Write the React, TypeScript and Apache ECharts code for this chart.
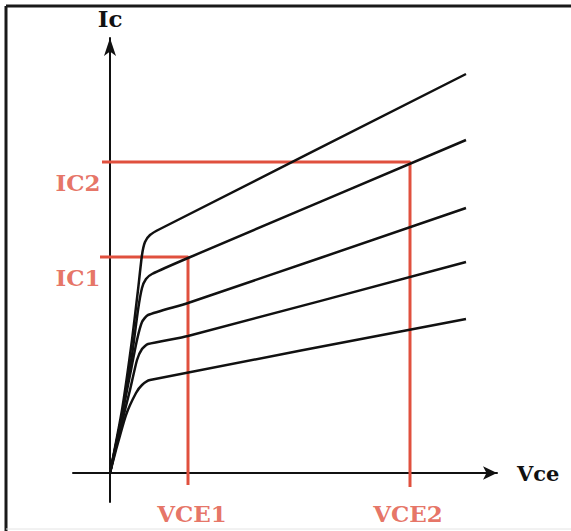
import React, { useEffect, useRef } from "react";
import * as echarts from "echarts";

// Output characteristic curves (Vce, Ic) in arbitrary units
const curve1: [number, number][] = [[0, 0], [0.3, 1.575], [0.55, 3.325], [0.7, 4.575], [0.8, 5.45], [0.875, 5.775], [1.0, 5.95], [1.25, 6.1], [8.9, 9.975]];
const curve2: [number, number][] = [[0, 0], [0.3, 1.45], [0.55, 2.95], [0.7, 4.075], [0.8, 4.625], [0.9, 4.85], [1.05, 4.975], [1.95, 5.375], [8.9, 8.325]];
const curve3: [number, number][] = [[0, 0], [0.25, 1.2], [0.5, 2.45], [0.675, 3.325], [0.8, 3.775], [0.95, 3.95], [1.95, 4.25], [8.9, 6.625]];
const curve4: [number, number][] = [[0, 0], [0.25, 1.075], [0.5, 2.075], [0.675, 2.825], [0.8, 3.1], [0.95, 3.225], [1.95, 3.425], [8.9, 5.275]];
const curve5: [number, number][] = [[0, 0], [0.15, 0.575], [0.4, 1.45], [0.65, 2.0], [0.8, 2.2], [1.0, 2.325], [8.9, 3.85]];
const curves = [curve1, curve2, curve3, curve4, curve5];

// Operating points
const VCE1 = 1.95;
const VCE2 = 7.5;
const IC1 = 5.4;
const IC2 = 7.775;

const guide1: [number, number][] = [[-0.25, IC1], [VCE1, IC1], [VCE1, -0.3]];
const guide2: [number, number][] = [[-0.2, IC2], [VCE2, IC2], [VCE2, -0.35]];

const redLabels: { name: string; value: [number, number] }[] = [
  { name: "IC2", value: [-0.8, 7.275] },
  { name: "IC1", value: [-0.8, 4.9] },
  { name: "VCE1", value: [VCE1 + 0.1, -1.0] },
  { name: "VCE2", value: [VCE2 - 0.05, -1.0] },
];

const RED = "#e0503e";
const FONT = "DejaVu Serif";

export default function App() {
  const ref = useRef<HTMLDivElement>(null);
  useEffect(() => {
    if (!ref.current) return;
    const chart = echarts.init(ref.current, undefined, { renderer: "svg" });
    const series: any[] = curves.map((c) => ({
      type: "line",
      data: c,
      smooth: 0.2,
      showSymbol: false,
      silent: true,
      z: 3,
      lineStyle: { color: "#111", width: 2.5 },
    }));
    [guide1, guide2].forEach((g) =>
      series.push({
        type: "line",
        data: g,
        showSymbol: false,
        silent: true,
        z: 2,
        lineStyle: { color: RED, width: 3 },
      })
    );
    series.push({
      type: "scatter",
      data: redLabels,
      symbolSize: 0,
      silent: true,
      clip: false,
      label: {
        show: true,
        position: "inside",
        formatter: (p: any) => p.name,
        color: RED,
        fontFamily: FONT,
        fontWeight: "bold",
        fontSize: 23,
      },
    });
    chart.setOption({
      animation: false,
      backgroundColor: "#fff",
      grid: { left: 73, right: 74, top: 38, bottom: 29 },
      xAxis: {
        type: "value",
        min: -0.925,
        max: 9.675,
        name: "Vce",
        nameLocation: "end",
        nameGap: 20,
        nameTextStyle: { color: "#111", fontFamily: FONT, fontWeight: "bold", fontSize: 21 },
        axisLine: { onZero: true, lineStyle: { color: "#111", width: 2 }, symbol: ["none", "arrow"], symbolSize: [10, 14] },
        axisTick: { show: false },
        axisLabel: { show: false },
        splitLine: { show: false },
      },
      yAxis: {
        type: "value",
        min: -0.725,
        max: 10.875,
        name: "Ic",
        nameLocation: "end",
        nameGap: 8,
        nameTextStyle: { color: "#111", fontFamily: FONT, fontWeight: "bold", fontSize: 23 },
        axisLine: { onZero: true, lineStyle: { color: "#111", width: 2 }, symbol: ["none", "arrow"], symbolSize: [9, 18] },
        axisTick: { show: false },
        axisLabel: { show: false },
        splitLine: { show: false },
      },
      graphic: [
        { type: "line", shape: { x1: 6, y1: 6, x2: 571, y2: 6 }, style: { stroke: "#1a1a1a", lineWidth: 3 } },
        { type: "line", shape: { x1: 6, y1: 6, x2: 6, y2: 531 }, style: { stroke: "#1a1a1a", lineWidth: 3 } },
        { type: "line", shape: { x1: 6, y1: 529, x2: 571, y2: 529 }, style: { stroke: "#e4e4e4", lineWidth: 1 } },
      ],
      series,
    });
    return () => chart.dispose();
  }, []);
  return <div ref={ref} style={{ position: "fixed", left: 0, top: 0, width: 571, height: 531 }} />;
}
